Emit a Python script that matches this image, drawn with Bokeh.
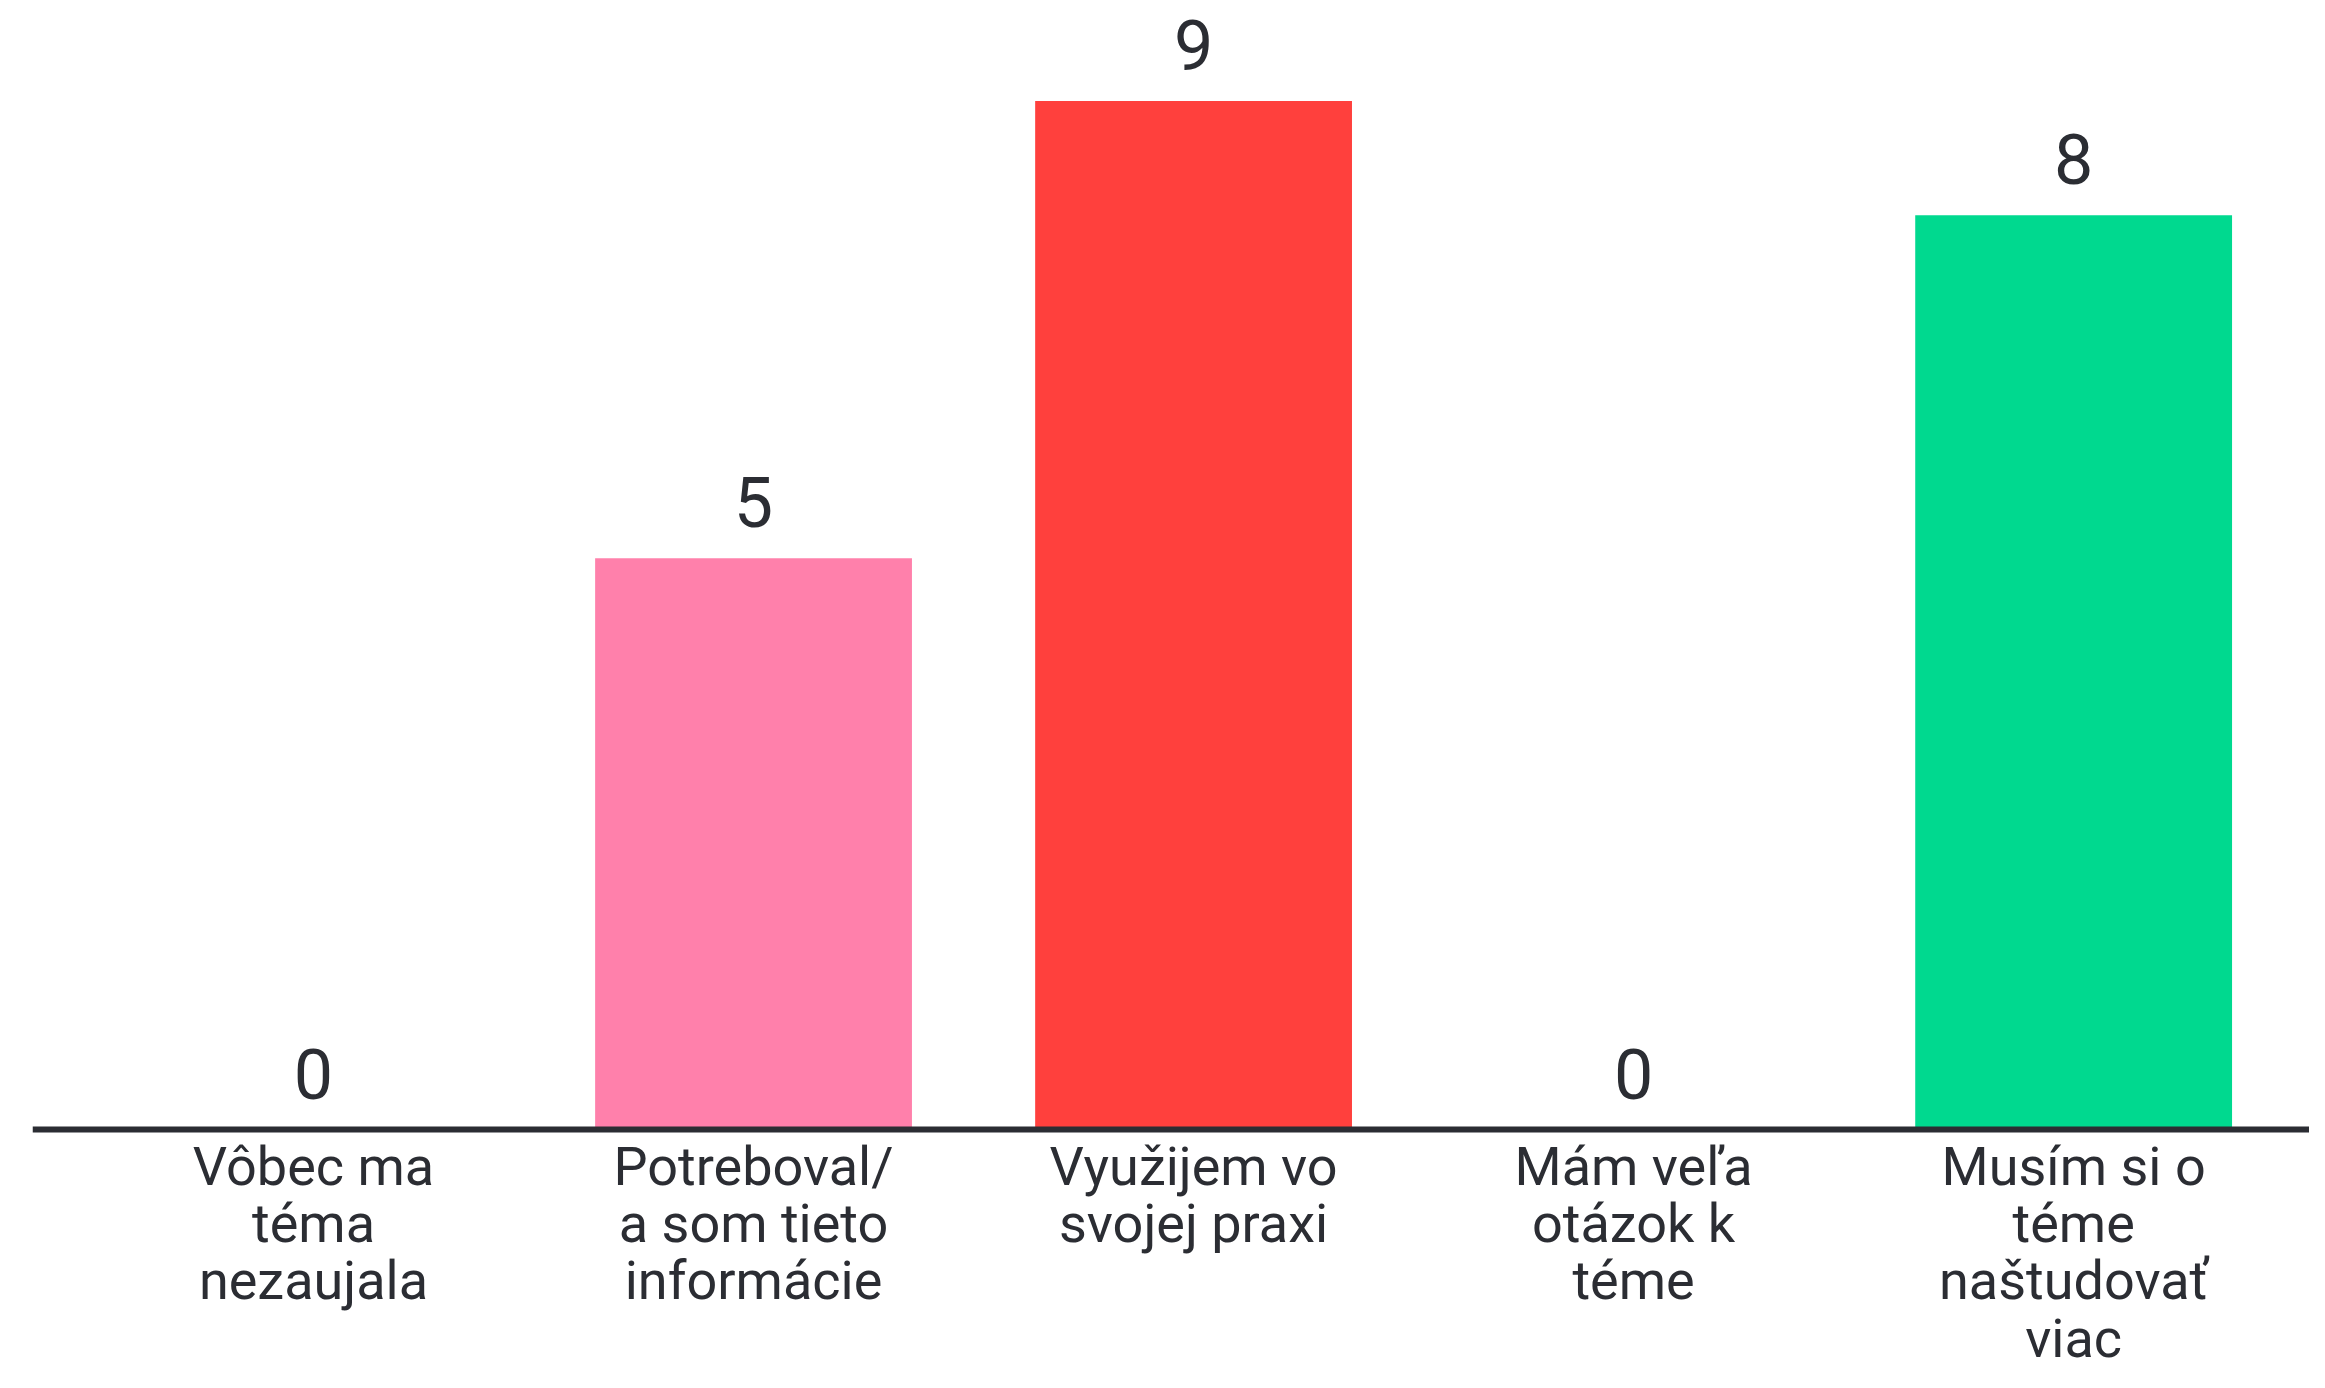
from bokeh.plotting import figure
from bokeh.models import ColumnDataSource, Range1d, Span
from bokeh.core.properties import value
from bokeh.embed import file_html
from bokeh.resources import INLINE

categories = [
    "Vôbec ma\ntéma\nnezaujala",
    "Potreboval/\na som tieto\ninformácie",
    "Využijem vo\nsvojej praxi",
    "Mám veľa\notázok k\ntéme",
    "Musím si o\ntéme\nnaštudovať\nviac",
]
counts = [0, 5, 9, 0, 8]
colors = ["#ff80ab", "#ff80ab", "#ff403d", "#5a87ff", "#00d98f"]

xs = list(range(len(categories)))
zeros = [0] * len(categories)
src = ColumnDataSource(dict(x=xs, top=counts, base=zeros, color=colors, cat=categories,
                            label=[str(c) for c in counts]))

p = figure(width=2309, height=1372, output_backend="svg", toolbar_location=None,
           x_range=Range1d(-0.6386, 4.536), y_range=Range1d(-2.126, 9.88),
           min_border_left=32, min_border_right=0, min_border_top=0, min_border_bottom=0)

p.vbar(x="x", top="top", bottom=0, width=0.72, color="color", line_color=None, source=src)
p.add_layout(Span(location=0, dimension="width", line_color="#2b2d33", line_width=6))

p.text(x="x", y="top", text="label", source=src, text_align="center", text_baseline="alphabetic",
       y_offset=-56, text_font_size="70px", text_color="#2b2d33", text_font=value("Roboto"))

p.text(x="x", y="base", text="cat", source=src, text_align="center", text_baseline="top",
       y_offset=5, text_font_size="54px", text_color="#2b2d33", text_font=value("Roboto"),
       text_line_height=0.91)

p.xgrid.visible = False
p.ygrid.visible = False
p.xaxis.visible = False
p.yaxis.visible = False
p.outline_line_color = None

open("out.html", "w").write(file_html(p, INLINE))
